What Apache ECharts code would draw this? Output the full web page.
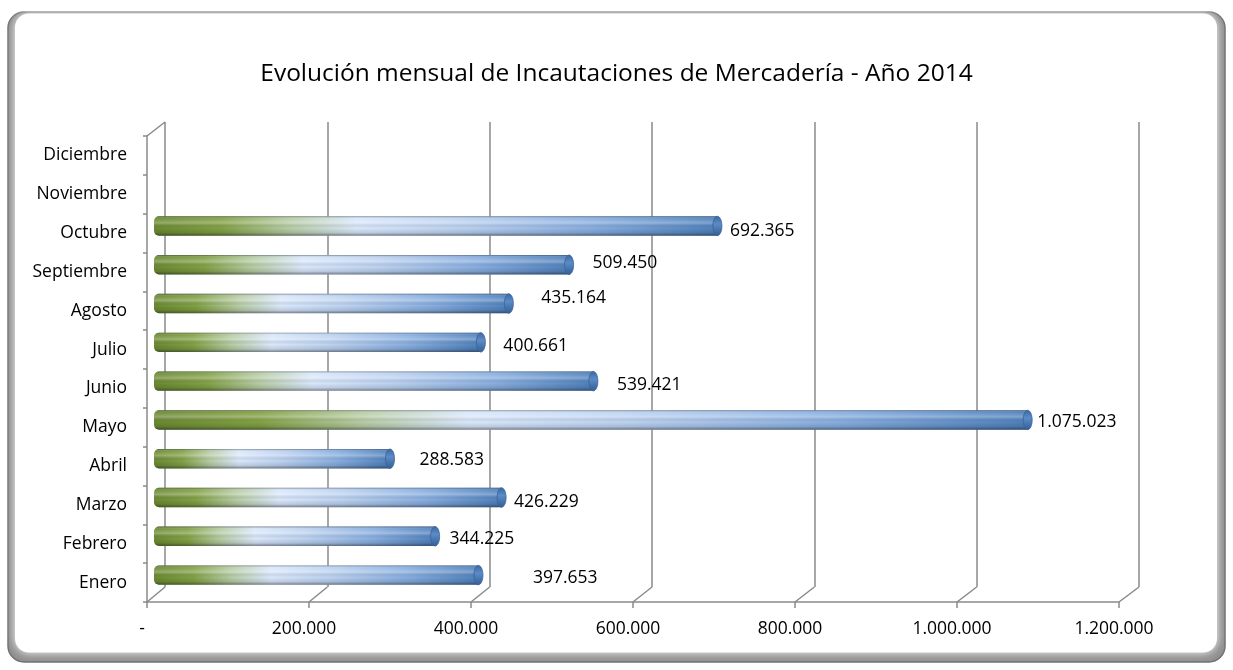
<!DOCTYPE html>
<html>
<head>
<meta charset="utf-8">
<script src="https://cdn.jsdelivr.net/npm/echarts@6/dist/echarts.min.js"></script>
<style>
  html, body { margin: 0; padding: 0; background: #ffffff; }
  #chart { width: 1233px; height: 670px; }
</style>
</head>
<body>
<div id="chart"></div>
<script>
// ---------------- data ----------------
const titleText = 'Evolución mensual de Incautaciones de Mercadería - Año 2014';
const months = ['Enero', 'Febrero', 'Marzo', 'Abril', 'Mayo', 'Junio', 'Julio',
                'Agosto', 'Septiembre', 'Octubre', 'Noviembre', 'Diciembre'];
const values = [397653, 344225, 426229, 288583, 1075023, 539421, 400661,
                435164, 509450, 692365, null, null];
const xTickValues = [0, 200000, 400000, 600000, 800000, 1000000, 1200000];

// ---------------- styling (label nudges, as in the Excel 3D layout) ----------------
const labelGap = [50, 10, 8, 25, 5, 19, 18, 28, 19, 8, 0, 0];
const labelShiftY = [3, 3, 4, 1, 2, 4, 4, -6, -2, 5, 0, 0];

const W = 1233, H = 670;
const FRONT = { left: 147, right: 1119, top: 136, bottom: 602 };
const BACK = { left: 165, right: 1139, top: 122, bottom: 587 };
const MID = {
  left: (FRONT.left + BACK.left) / 2, right: (FRONT.right + BACK.right) / 2,
  top: (FRONT.top + BACK.top) / 2, bottom: (FRONT.bottom + BACK.bottom) / 2
};
const FONT = '"Open Sans", "Noto Sans", sans-serif';
const LABEL_SIZE = 17.5;
const GRID_COLOR = '#8a8a8a';
const X_MIN = xTickValues[0], X_MAX = xTickValues[xTickValues.length - 1];
const X_INT = xTickValues[1] - xTickValues[0];

function fmt(v) {
  if (v === 0) return '-';
  return String(Math.round(v)).replace(/\B(?=(\d{3})+(?!\d))/g, '.');
}
function gridOf(r) {
  return { left: r.left, right: W - r.right, top: r.top, bottom: H - r.bottom, containLabel: false };
}
function valueAxis(idx, extra) {
  return Object.assign({
    type: 'value', gridIndex: idx, min: X_MIN, max: X_MAX, interval: X_INT,
    axisLine: { show: false }, axisTick: { show: false }, axisLabel: { show: false },
    splitLine: { show: false }
  }, extra || {});
}
function catAxis(idx, extra) {
  return Object.assign({
    type: 'category', gridIndex: idx, data: months, boundaryGap: true,
    axisLine: { show: false }, axisTick: { show: false }, axisLabel: { show: false },
    splitLine: { show: false }
  }, extra || {});
}

const chart = echarts.init(document.getElementById('chart'), null, { renderer: 'canvas' });

const option = {
  backgroundColor: '#ffffff',
  animation: false,
  title: {
    text: titleText, left: 'center', top: 57,
    textStyle: { fontFamily: FONT, fontSize: 24.5, fontWeight: 'normal', color: '#000' }
  },
  graphic: [
    { type: 'rect', z: -20, silent: true,
      shape: { x: 8, y: 12, width: 1217, height: 650, r: 16 },
      style: { fill: '#8f8f8f', stroke: '#707070', lineWidth: 1.5 } },
    { type: 'rect', z: -19, silent: true,
      shape: { x: 15, y: 13.5, width: 1202, height: 639, r: 14 },
      style: { fill: '#ffffff', shadowBlur: 10, shadowColor: '#ffffff' } }
  ],
  grid: [gridOf(FRONT), gridOf(BACK), gridOf(MID)],
  xAxis: [
    valueAxis(0, {
      axisLine: { show: true, lineStyle: { color: GRID_COLOR, width: 1.5 } },
      axisTick: { show: true, length: 6, lineStyle: { color: GRID_COLOR, width: 1.5 } },
      axisLabel: { show: true, formatter: fmt, margin: 18, color: '#000',
                   fontFamily: FONT, fontSize: LABEL_SIZE, padding: [0, 10, 0, 0] }
    }),
    valueAxis(1, {
      splitLine: { show: true, lineStyle: { color: GRID_COLOR, width: 1.5 } }
    }),
    valueAxis(2)
  ],
  yAxis: [
    catAxis(0, {
      axisLine: { show: true, lineStyle: { color: GRID_COLOR, width: 1.5 } },
      axisTick: { show: true, length: 4, lineStyle: { color: GRID_COLOR, width: 1.5 } },
      axisLabel: { show: true, margin: 20, color: '#000', fontFamily: FONT,
                   fontSize: LABEL_SIZE, padding: [6, 0, 0, 0] }
    }),
    catAxis(1),
    catAxis(2)
  ],
  series: [
    {
      // depth connectors from the front floor edge to the back wall
      type: 'custom', xAxisIndex: 0, yAxisIndex: 0, silent: true, z: 1,
      data: xTickValues.map(v => [v]),
      encode: { x: 0 },
      renderItem: function (params, api) {
        const cs = params.coordSys;
        const v = api.value(0);
        const fx = api.coord([v, 0])[0];
        const fb = cs.y + cs.height;
        const t = (fx - cs.x) / cs.width;
        const bx = BACK.left + t * (BACK.right - BACK.left);
        const children = [{
          type: 'line', shape: { x1: fx, y1: fb, x2: bx, y2: BACK.bottom },
          style: { stroke: GRID_COLOR, lineWidth: 1.5 }
        }];
        if (v === X_MIN) {
          children.push({
            type: 'line', shape: { x1: cs.x, y1: cs.y, x2: BACK.left, y2: BACK.top },
            style: { stroke: GRID_COLOR, lineWidth: 1.5 }
          });
        }
        return { type: 'group', children: children };
      }
    },
    {
      // cylinders
      type: 'custom', xAxisIndex: 2, yAxisIndex: 2, z: 5,
      data: values.map((v, i) => [v == null ? NaN : v, i]),
      encode: { x: 0, y: 1 },
      renderItem: function (params, api) {
        const v = api.value(0);
        const i = api.value(1);
        if (v == null || isNaN(v)) return null;
        const s = api.coord([0, i]);
        const e = api.coord([v, i]);
        const band = api.size([0, 1])[1];
        const h = band * 0.5;
        const cy = s[1];
        const x0 = s[0], x1 = e[0];
        const rx = 4.5;
        const top = cy - h / 2;
        return {
          type: 'group',
          children: [
            { type: 'rect',
              shape: { x: x0 - 2, y: top, width: x1 - x0 + 2, height: h, r: [5, 0, 0, 5] },
              style: { fill: { type: 'linear', x: 0, y: 0, x2: 1, y2: 0, colorStops: [
                { offset: 0, color: '#6b8a32' },
                { offset: 0.12, color: '#82a145' },
                { offset: 0.24, color: '#b8cda6' },
                { offset: 0.36, color: '#dae8fc' },
                { offset: 0.54, color: '#bdd3f1' },
                { offset: 0.78, color: '#88aee0' },
                { offset: 1, color: '#4f81bd' } ] } } },
            { type: 'rect',
              shape: { x: x0 - 2, y: top, width: x1 - x0 + 2, height: h, r: [5, 0, 0, 5] },
              style: { fill: { type: 'linear', x: 0, y: 0, x2: 0, y2: 1, colorStops: [
                { offset: 0, color: 'rgba(30,40,50,0.5)' },
                { offset: 0.12, color: 'rgba(255,255,255,0.05)' },
                { offset: 0.35, color: 'rgba(255,255,255,0.28)' },
                { offset: 0.6, color: 'rgba(0,0,0,0.0)' },
                { offset: 0.85, color: 'rgba(0,0,0,0.12)' },
                { offset: 1, color: 'rgba(20,30,40,0.5)' } ] } } },
            { type: 'ellipse',
              shape: { cx: x1, cy: cy, rx: rx, ry: h / 2 },
              style: { fill: { type: 'linear', x: 0, y: 0, x2: 0, y2: 1, colorStops: [
                { offset: 0, color: '#3b679f' },
                { offset: 0.4, color: '#5b8bc8' },
                { offset: 1, color: '#345d92' } ] },
                stroke: '#3a6296', lineWidth: 0.8 } },
            { type: 'text',
              x: x1 + rx + labelGap[i], y: cy + labelShiftY[i],
              style: { text: fmt(v), fill: '#000', font: LABEL_SIZE + 'px ' + FONT,
                       verticalAlign: 'middle', align: 'left' } }
          ]
        };
      }
    }
  ]
};
chart.setOption(option);
</script>
</body>
</html>
